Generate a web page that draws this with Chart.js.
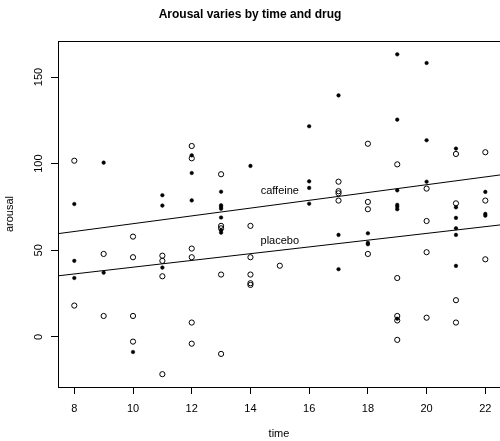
<!DOCTYPE html>
<html>
<head>
<meta charset="utf-8">
<script src="https://cdn.jsdelivr.net/npm/chart.js@4"></script>
<style>
	body { margin: 0; background: #fff; }
	#wrap { width: 500px; height: 441px; }
</style>
</head>
<body>
<div id="wrap"><canvas id="chart" width="500" height="441"></canvas></div>
<script>
// caffeine group (filled dots)
const caffeineTime = [8, 8, 8, 9, 9, 10, 11, 11, 11, 12, 12, 12,
	13, 13, 13, 13, 13, 13, 13, 14, 16, 16, 16, 16, 17, 17, 17, 18, 18, 18,
	19, 19, 19, 19, 19, 19, 19, 20, 20, 20, 21, 21, 21, 21, 21, 21, 22, 22, 22];
const caffeineArousal = [76.7, 43.9, 34.0, 100.6, 37.1, -8.7, 81.8, 75.8, 40.0, 104.8, 94.6, 78.8,
	83.8, 76.0, 75.0, 74.0, 68.9, 61.5, 60.2, 98.7, 121.6, 89.8, 86.0, 76.9, 139.4, 58.9, 39.1, 59.8, 54.3, 53.5,
	163.1, 125.4, 84.6, 76.2, 75.2, 73.7, 10.5, 158.1, 113.5, 89.6, 108.7, 74.8, 68.7, 62.7, 58.9, 41.0, 83.7, 71.0, 70.0];

// placebo group (open circles)
const placeboTime = [8, 8, 9, 9, 10, 10, 10, 10, 11, 11, 11, 11, 12, 12, 12, 12, 12, 12,
	13, 13, 13, 13, 13, 14, 14, 14, 14, 14, 15, 17, 17, 17, 17, 18, 18, 18, 18,
	19, 19, 19, 19, 19, 20, 20, 20, 20, 21, 21, 21, 21, 22, 22, 22];
const placeboArousal = [101.7, 18.1, 47.9, 12.1, 57.9, 46.0, 12.1, -2.7, 46.9, 43.9, 35.0, -21.5, 110.2, 103.1, 51.0, 46.0, 8.3, -3.9,
	93.9, 64.1, 62.7, 36.0, -9.8, 64.1, 46.0, 36.0, 31.0, 30.0, 41.1, 89.6, 84.1, 82.9, 78.7, 111.5, 77.9, 73.7, 47.9,
	99.6, 34.0, 12.1, 9.5, -1.7, 85.6, 66.9, 48.9, 11.1, 105.6, 77.1, 21.2, 8.3, 106.6, 78.7, 44.8];

// fitted lines, read at both ends
const fitTime = [7, 23];
const caffeineFit = [58.6, 94.6];
const placeboFit = [34.4, 65.6];

// line labels
const lineLabels = ['caffeine', 'placebo'];
const labelTime = [15, 15];
const labelArousal = [84, 55.5];

const xTicks = [8, 10, 12, 14, 16, 18, 20, 22];
const yTicks = [0, 50, 100, 150];

function pts(xs, ys) {
	return xs.map((x, i) => ({ x: x, y: ys[i] }));
}

// box top edge, rotated y tick labels and line labels
const extras = {
	id: 'extras',
	afterDraw(chart) {
		const ctx = chart.ctx;
		const a = chart.chartArea;
		const xs = chart.scales.x;
		const ys = chart.scales.y;
		ctx.save();
		ctx.strokeStyle = '#000';
		ctx.lineWidth = 1;
		ctx.beginPath();
		ctx.moveTo(a.left, Math.round(a.top) + 0.5);
		ctx.lineTo(a.right, Math.round(a.top) + 0.5);
		ctx.stroke();

		ctx.fillStyle = '#000';
		ctx.font = '11px "Liberation Sans", Arial, sans-serif';
		ctx.textAlign = 'center';
		ctx.textBaseline = 'middle';
		yTicks.forEach(v => {
			ctx.save();
			ctx.translate(38.5, ys.getPixelForValue(v));
			ctx.rotate(-Math.PI / 2);
			ctx.fillText(String(v), 0, 0);
			ctx.restore();
		});
		lineLabels.forEach((t, i) => {
			ctx.fillText(t, xs.getPixelForValue(labelTime[i]), ys.getPixelForValue(labelArousal[i]));
		});
		ctx.restore();
	}
};

const font = { family: '"Liberation Sans", Arial, sans-serif', size: 11 };

let ctx = document.getElementById('chart').getContext('2d');
let chart = new Chart(ctx, {
	type: 'scatter',
	data: {
		datasets: [{
			label: 'caffeine',
			data: pts(caffeineTime, caffeineArousal),
			pointRadius: 1.8,
			pointBackgroundColor: '#000',
			pointBorderColor: '#000',
			pointBorderWidth: 0.5
		}, {
			label: 'placebo',
			data: pts(placeboTime, placeboArousal),
			pointRadius: 2.6,
			pointBackgroundColor: 'rgba(0,0,0,0)',
			pointBorderColor: '#000',
			pointBorderWidth: 1
		}, {
			type: 'line',
			label: 'caffeine fit',
			data: pts(fitTime, caffeineFit),
			borderColor: '#000',
			borderWidth: 1,
			pointRadius: 0
		}, {
			type: 'line',
			label: 'placebo fit',
			data: pts(fitTime, placeboFit),
			borderColor: '#000',
			borderWidth: 1,
			pointRadius: 0
		}]
	},
	options: {
		responsive: false,
		animation: false,
		devicePixelRatio: 1,
		layout: { padding: 0, autoPadding: false },
		plugins: {
			legend: { display: false },
			tooltip: { enabled: false },
			title: {
				display: true,
				text: 'Arousal varies by time and drug',
				color: '#000',
				font: { family: font.family, size: 12, weight: 'bold' },
				padding: { top: 7, bottom: 19.6 }
			}
		},
		scales: {
			x: {
				type: 'linear',
				min: 7.445,
				max: 22.5,
				afterBuildTicks: s => { s.ticks = xTicks.map(v => ({ value: v })); },
				afterFit: s => { s.height = 54; },
				grid: { drawOnChartArea: false, drawTicks: true, tickLength: 7, color: '#000' },
				border: { display: true, color: '#000', width: 1 },
				ticks: { color: '#000', font: font, padding: 8, maxRotation: 0 },
				title: { display: true, text: 'time', color: '#000', font: font, padding: { top: 0, bottom: 0 } }
			},
			y: {
				type: 'linear',
				min: -28.9,
				max: 170.8,
				afterBuildTicks: s => { s.ticks = yTicks.map(v => ({ value: v })); },
				afterFit: s => { s.width = 58; },
				grid: { drawOnChartArea: false, drawTicks: true, tickLength: 7, color: '#000' },
				border: { display: true, color: '#000', width: 1 },
				ticks: { display: false },
				title: { display: true, text: 'arousal', color: '#000', font: font, padding: { top: 3, bottom: 0 } }
			}
		}
	},
	plugins: [extras]
});
</script>
</body>
</html>
